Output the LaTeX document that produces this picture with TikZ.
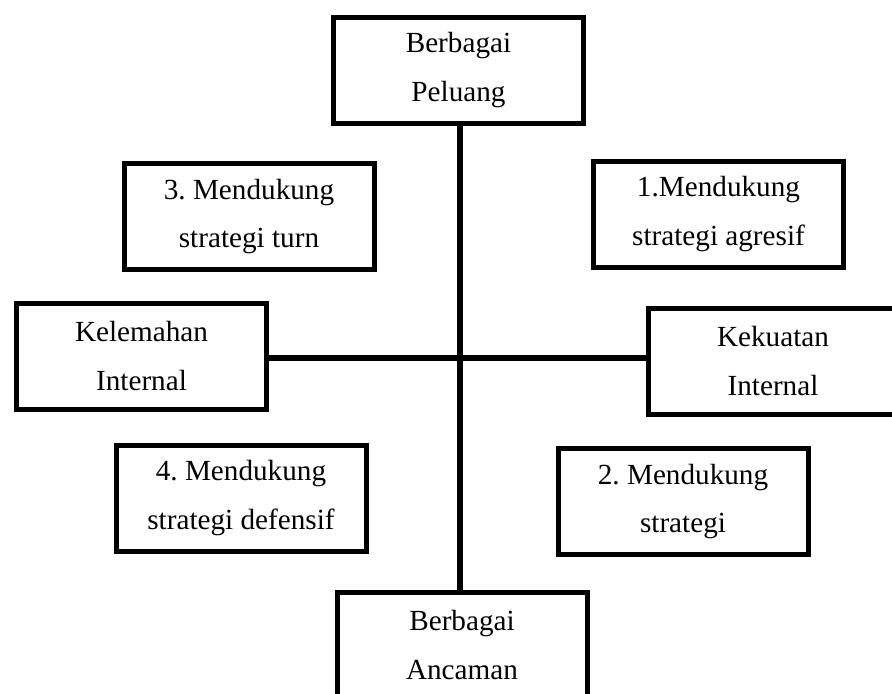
\documentclass[tikz,border=0pt]{standalone}
\usepackage{fontspec}
\setmainfont{Liberation Serif}
\frenchspacing
\begin{document}
\begin{tikzpicture}[x=0.75pt,y=-0.75pt,
  swotbox/.style={draw=black,line width=3.75pt,fill=white,rectangle,
    minimum width=187.5pt,minimum height=79.5pt,inner sep=0pt,align=center,
    font=\fontsize{21.9pt}{36.5pt}\selectfont},
  axis/.style={draw=black,line width=3.9pt}]
\useasboundingbox (0,0) rectangle (892,693);
\clip (0,0) rectangle (892,693);
\fill[white] (0,0) rectangle (892,693);
\coordinate (c) at (460,358);
\node[swotbox] (tp) at (458.5,70) {Berbagai\\Peluang};
\node[swotbox] (bt) at (462,645) {Berbagai\\Ancaman};
\node[swotbox] (kl) at (141.5,356) {Kelemahan\\Internal};
\node[swotbox] (kk) at (773,361) {Kekuatan\\Internal};
\draw[axis] (c |- tp.south) -- (c |- bt.north);
\draw[axis] (kl.east |- c) -- (kk.west |- c);
\node[swotbox] (b3) at (249,216.5) {3. Mendukung\\strategi turn};
\node[swotbox] (b1) at (718.5,214) {1.Mendukung\\strategi agresif};
\node[swotbox] (b4) at (241,498) {4. Mendukung\\strategi defensif};
\node[swotbox] (b2) at (683,501.5) {2. Mendukung\\strategi};
\end{tikzpicture}
\end{document}
